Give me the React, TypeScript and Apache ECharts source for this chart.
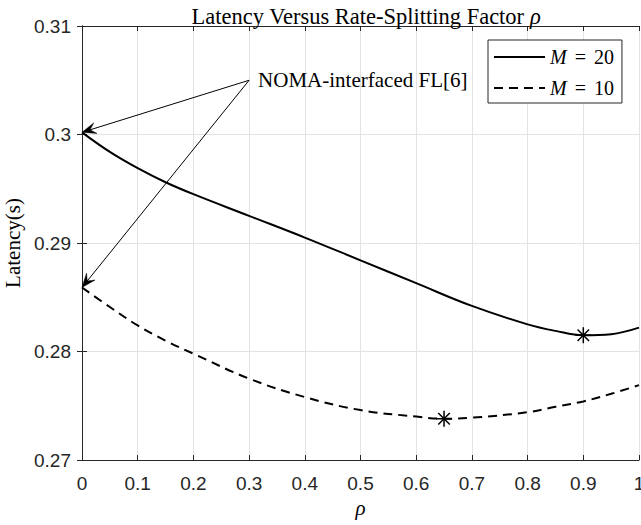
import React, { useEffect, useRef } from "react";
import * as echarts from "echarts";

const rhoM20 = [0, 0.05, 0.1, 0.15, 0.2, 0.3, 0.4, 0.5, 0.6, 0.7, 0.8, 0.85, 0.9, 0.95, 1.0];
const latencyM20 = [0.3002, 0.2984, 0.2969, 0.2956, 0.2945, 0.2925, 0.2905, 0.2884, 0.2863, 0.2842, 0.2825, 0.2819, 0.2815, 0.2816, 0.2822];
const rhoM10 = [0, 0.05, 0.1, 0.15, 0.2, 0.3, 0.4, 0.5, 0.6, 0.65, 0.7, 0.8, 0.85, 0.9, 0.95, 1.0];
const latencyM10 = [0.2859, 0.2841, 0.2824, 0.281, 0.2798, 0.2775, 0.2758, 0.2746, 0.274, 0.2738, 0.2739, 0.2744, 0.2749, 0.2754, 0.2761, 0.2769];
const optimumPoints = [
  [0.65, 0.2738],
  [0.9, 0.2815],
];
const annotationOrigin = [0.3, 0.305];
const annotationTargets = [
  [0, 0.3002],
  [0, 0.2859],
];
const annotationText = "NOMA-interfaced FL[6]";
const seriesNames = ["M20", "M10"];

const SERIF = "'Liberation Serif', 'Times New Roman', serif";
const SANS = "'Liberation Sans', Arial, Helvetica, sans-serif";
const AX = "#262626";

export default function App() {
  const ref = useRef<HTMLDivElement>(null);
  useEffect(() => {
    if (!ref.current) return;
    const chart = echarts.init(ref.current, undefined, { renderer: "svg" });
    const m20 = rhoM20.map((r, i) => [r, latencyM20[i]]);
    const m10 = rhoM10.map((r, i) => [r, latencyM10[i]]);
    const arrows = annotationTargets.map((t) => [annotationOrigin[0], annotationOrigin[1], t[0], t[1]]);

    const axisCommon = {
      axisLine: { show: true, lineStyle: { color: AX, width: 1 } },
      axisTick: { show: true, inside: true, length: 5, lineStyle: { color: AX, width: 1 } },
    };

    chart.setOption({
      animation: false,
      backgroundColor: "#ffffff",
      title: {
        text: "Latency Versus Rate-Splitting Factor {i|ρ}",
        left: 361,
        textAlign: "center",
        top: 0,
        textStyle: {
          fontFamily: SERIF,
          fontSize: 22.5,
          fontWeight: "normal",
          color: "#000",
          rich: { i: { fontFamily: SERIF, fontSize: 22.5, fontStyle: "italic", color: "#000" } },
        },
      },
      legend: {
        data: seriesNames,
        left: 488,
        top: 40,
        orient: "vertical",
        borderColor: AX,
        borderWidth: 1,
        backgroundColor: "#fff",
        padding: [6, 8, 4, 5],
        itemWidth: 51,
        itemHeight: 14,
        itemGap: 9,
        itemStyle: { opacity: 0 },
        formatter: (name: string) => (name === "M20" ? "{i|M}{e|=}20" : "{i|M}{e|=}10"),
        textStyle: {
          fontFamily: SERIF,
          fontSize: 20,
          lineHeight: 22,
          color: "#000",
          rich: {
            i: { fontFamily: SERIF, fontSize: 20, fontStyle: "italic", color: "#000" },
            e: { fontFamily: SERIF, fontSize: 20, color: "#000", padding: [0, 8, 0, 8] },
          },
        },
      },
      grid: { left: 82, right: 2, top: 26, bottom: 65, outerBoundsMode: "none", containLabel: false },
      xAxis: [
        {
          type: "value",
          min: 0,
          max: 1,
          interval: 0.1,
          position: "bottom",
          name: "ρ",
          nameLocation: "middle",
          nameGap: 33,
          nameTextStyle: { fontFamily: SERIF, fontSize: 21, fontStyle: "italic", color: "#000" },
          ...axisCommon,
          axisLabel: { fontFamily: SANS, fontSize: 19, color: AX, margin: 14 },
          splitLine: { show: true, lineStyle: { color: "#e3e3e3", width: 1 } },
        },
        {
          type: "value",
          min: 0,
          max: 1,
          interval: 0.1,
          position: "top",
          ...axisCommon,
          axisLabel: { show: false },
          splitLine: { show: false },
        },
      ],
      yAxis: [
        {
          type: "value",
          min: 0.27,
          max: 0.31,
          interval: 0.01,
          position: "left",
          name: "Latency(s)",
          nameLocation: "middle",
          nameGap: 57,
          nameTextStyle: { fontFamily: SERIF, fontSize: 21, color: "#000" },
          ...axisCommon,
          axisLabel: { fontFamily: SANS, fontSize: 19, color: AX, margin: 11 },
          splitLine: { show: true, lineStyle: { color: "#e3e3e3", width: 1 } },
        },
        {
          type: "value",
          min: 0.27,
          max: 0.31,
          interval: 0.01,
          position: "right",
          ...axisCommon,
          axisLabel: { show: false },
          splitLine: { show: false },
        },
      ],
      series: [
        {
          name: "M20",
          type: "line",
          data: m20,
          smooth: 0.4,
          symbol: "none",
          lineStyle: { color: "#000", width: 2, type: "solid" },
          itemStyle: { color: "#000" },
        },
        {
          name: "M10",
          type: "line",
          data: m10,
          smooth: 0.4,
          symbol: "none",
          lineStyle: { color: "#000", width: 2, type: [9, 6] },
          itemStyle: { color: "#000" },
        },
        {
          type: "custom",
          coordinateSystem: "cartesian2d",
          data: optimumPoints,
          encode: { x: 0, y: 1 },
          clip: false,
          renderItem: (params: any, api: any) => {
            const p = api.coord([api.value(0), api.value(1)]);
            const r = 8;
            const d = r * 0.72;
            const st = { stroke: "#000", lineWidth: 1.5 };
            return {
              type: "group",
              children: [
                { type: "line", shape: { x1: p[0] - r, y1: p[1], x2: p[0] + r, y2: p[1] }, style: st },
                { type: "line", shape: { x1: p[0], y1: p[1] - r, x2: p[0], y2: p[1] + r }, style: st },
                { type: "line", shape: { x1: p[0] - d, y1: p[1] - d, x2: p[0] + d, y2: p[1] + d }, style: st },
                { type: "line", shape: { x1: p[0] - d, y1: p[1] + d, x2: p[0] + d, y2: p[1] - d }, style: st },
              ],
            };
          },
        },
        {
          type: "custom",
          coordinateSystem: "cartesian2d",
          data: arrows,
          encode: { x: [0, 2], y: [1, 3] },
          clip: false,
          renderItem: (params: any, api: any) => {
            const p0 = api.coord([api.value(0), api.value(1)]);
            const p1 = api.coord([api.value(2), api.value(3)]);
            const dx = p1[0] - p0[0];
            const dy = p1[1] - p0[1];
            const len = Math.sqrt(dx * dx + dy * dy);
            const ux = dx / len;
            const uy = dy / len;
            const nx = -uy;
            const ny = ux;
            const L = 14;
            const W = 5.5;
            const back = [p1[0] - ux * L, p1[1] - uy * L];
            const notch = [p1[0] - ux * L * 0.6, p1[1] - uy * L * 0.6];
            return {
              type: "group",
              children: [
                {
                  type: "line",
                  shape: { x1: p0[0], y1: p0[1], x2: notch[0], y2: notch[1] },
                  style: { stroke: "#000", lineWidth: 1 },
                },
                {
                  type: "polygon",
                  shape: {
                    points: [
                      [p1[0], p1[1]],
                      [back[0] + nx * W, back[1] + ny * W],
                      [notch[0], notch[1]],
                      [back[0] - nx * W, back[1] - ny * W],
                    ],
                  },
                  style: { fill: "#000", stroke: "#000", lineWidth: 0.5 },
                },
              ],
            };
          },
        },
        {
          type: "custom",
          coordinateSystem: "cartesian2d",
          data: [annotationOrigin],
          encode: { x: 0, y: 1 },
          clip: false,
          renderItem: (params: any, api: any) => {
            const p = api.coord([api.value(0), api.value(1)]);
            return {
              type: "text",
              x: p[0] + 9,
              y: p[1],
              style: {
                text: annotationText,
                fontFamily: SERIF,
                fontSize: 21,
                fill: "#000",
                verticalAlign: "middle",
                align: "left",
              },
            };
          },
        },
      ],
    });
    return () => chart.dispose();
  }, []);
  return (
    <div
      ref={ref}
      style={{ position: "fixed", left: 0, top: 0, width: 641, height: 525, background: "#fff" }}
    />
  );
}
